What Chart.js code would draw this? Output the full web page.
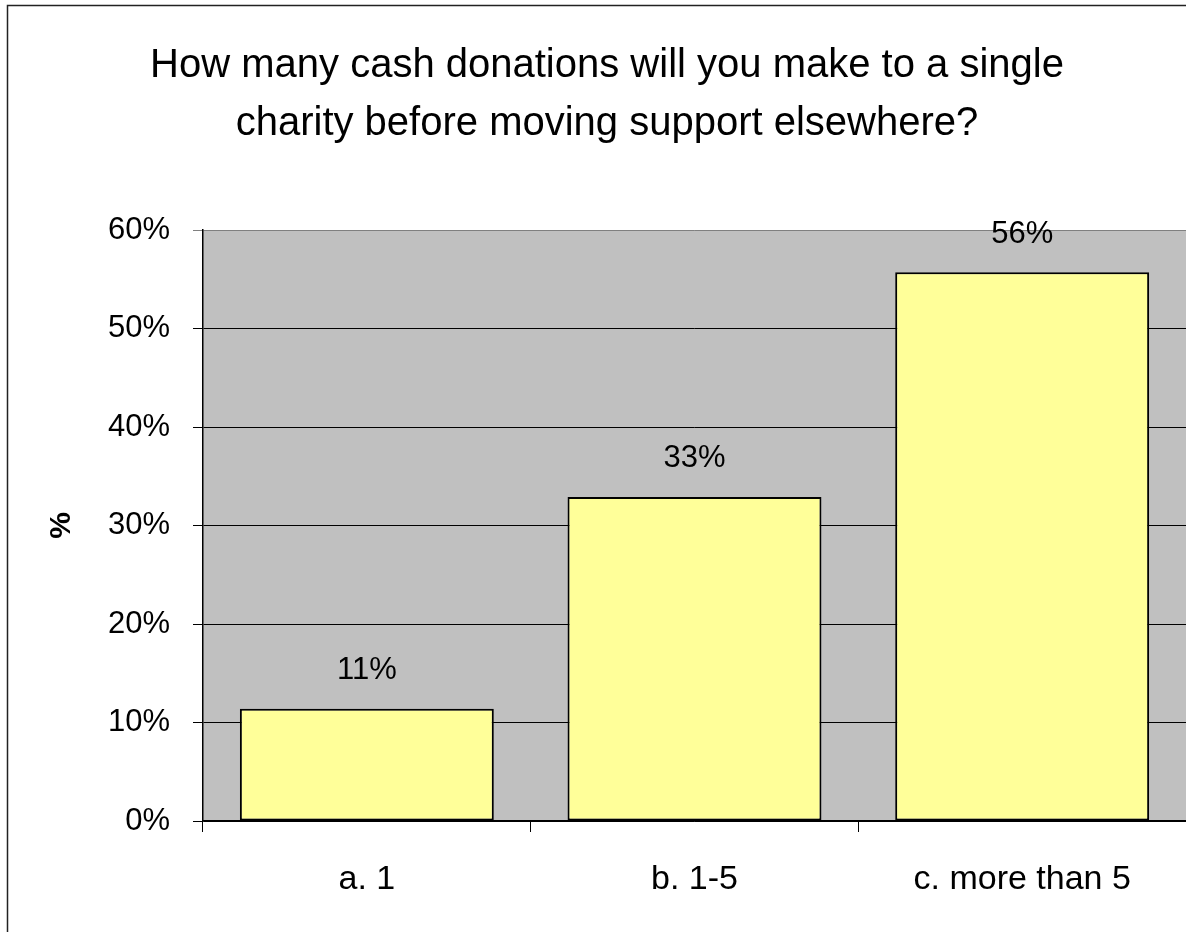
<!DOCTYPE html>
<html>
<head>
<meta charset="utf-8">
<script src="https://cdn.jsdelivr.net/npm/chart.js@4.4.1/dist/chart.umd.min.js"></script>
<style>
  html, body { margin: 0; padding: 0; background: #ffffff; }
  #wrap { width: 1186px; height: 932px; position: relative; }
</style>
</head>
<body>
<div id="wrap"><canvas id="chart" width="1186" height="932"></canvas></div>
<script>
// Survey answers and share of respondents (%)
const categories = ['a. 1', 'b. 1-5', 'c. more than 5'];
const shares = [11.4, 32.9, 55.7];
const yTicks = [0, 10, 20, 30, 40, 50, 60];
const titleLines = ['How many cash donations will you make to a single', 'charity before moving support elsewhere?'];
const yAxisTitle = '%';

const FONT = '"Liberation Sans", Arial, sans-serif';

// White page, outer frame and grey plot background
const backdrop = {
  id: 'backdrop',
  beforeDraw(chart) {
    const { ctx, chartArea: a } = chart;
    ctx.save();
    ctx.fillStyle = '#ffffff';
    ctx.fillRect(0, 0, chart.width, chart.height);
    ctx.strokeStyle = '#222222';
    ctx.lineWidth = 1.5;
    ctx.beginPath();
    ctx.moveTo(7.5, chart.height + 2);
    ctx.lineTo(7.5, 5.5);
    ctx.lineTo(chart.width + 2, 5.5);
    ctx.stroke();
    ctx.fillStyle = '#c0c0c0';
    ctx.fillRect(a.left, a.top, a.right - a.left, a.bottom - a.top);
    ctx.restore();
  }
};

// Percentage written above each bar
const valueLabels = {
  id: 'valueLabels',
  afterDatasetsDraw(chart) {
    const { ctx } = chart;
    const meta = chart.getDatasetMeta(0);
    ctx.save();
    ctx.font = '31px ' + FONT;
    ctx.fillStyle = '#000000';
    ctx.textAlign = 'center';
    ctx.textBaseline = 'middle';
    meta.data.forEach((bar, i) => {
      ctx.fillText(Math.round(shares[i]) + '%', bar.x, bar.y - 38);
    });
    ctx.restore();
  }
};

new Chart(document.getElementById('chart'), {
  type: 'bar',
  data: {
    labels: categories,
    datasets: [{
      data: shares,
      backgroundColor: '#ffff99',
      borderColor: '#000000',
      borderWidth: 2,
      borderSkipped: false,
      categoryPercentage: 1.0,
      barPercentage: 0.775
    }]
  },
  options: {
    responsive: false,
    animation: false,
    layout: { padding: { left: 28, right: 0, top: 0, bottom: 0 } },
    plugins: {
      legend: { display: false },
      tooltip: { enabled: false },
      title: {
        display: true,
        text: titleLines,
        color: '#000000',
        font: { family: FONT, size: 40, weight: 'normal', lineHeight: 1.45 },
        padding: { top: 37, bottom: 77 }
      }
    },
    scales: {
      x: {
        grid: {
          offset: true,
          drawOnChartArea: false,
          drawTicks: true,
          tickLength: 11,
          color: '#000000',
          lineWidth: 1
        },
        border: { display: true, color: '#000000', width: 1.5 },
        ticks: {
          color: '#000000',
          font: { family: FONT, size: 34 },
          padding: 27,
          maxRotation: 0
        },
        afterFit(scale) { scale.height = 111; }
      },
      y: {
        min: 0,
        max: 60,
        afterBuildTicks(scale) { scale.ticks = yTicks.map(v => ({ value: v })); },
        grid: {
          color: ctx => (ctx.tick && ctx.tick.value === 60) ? '#808080' : '#000000',
          lineWidth: 1,
          tickLength: 10,
          drawTicks: true
        },
        border: { display: true, color: '#000000', width: 1.5 },
        ticks: {
          color: '#000000',
          font: { family: FONT, size: 31 },
          padding: 23,
          callback: v => v + '%'
        },
        title: {
          display: true,
          text: yAxisTitle,
          color: '#000000',
          font: { family: FONT, size: 30, weight: 'bold' },
          padding: { top: 16, bottom: 0 }
        },
        afterFit(scale) { scale.width = 175; }
      }
    }
  },
  plugins: [backdrop, valueLabels]
});
</script>
</body>
</html>
